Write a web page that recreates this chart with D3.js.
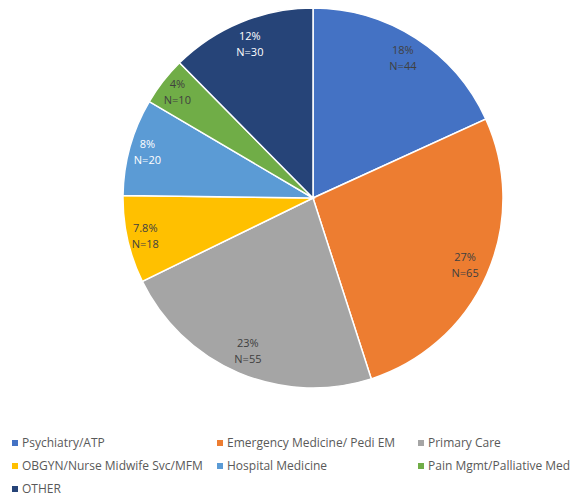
<!DOCTYPE html>
<html>
<head>
<meta charset="utf-8">
<script src="https://cdn.jsdelivr.net/npm/d3@7"></script>
<style>
  body { margin: 0; background: #fff; }
  svg { display: block; font-family: "Open Sans", "Liberation Sans", sans-serif; }
  .lbl { font-size: 11px; text-anchor: middle; }
  .leg text { font-size: 12px; fill: #595959; }
</style>
</head>
<body>
<svg id="chart" width="581" height="496"></svg>
<script>
(function () {
  "use strict";

  // data
  var categories = ["Psychiatry/ATP", "Emergency Medicine/ Pedi EM", "Primary Care",
    "OBGYN/Nurse Midwife Svc/MFM", "Hospital Medicine", "Pain Mgmt/Palliative Med", "OTHER"];
  var counts = [44, 65, 55, 18, 20, 10, 30];
  var pctLabels = ["18%", "27%", "23%", "7.8%", "8%", "4%", "12%"];
  var colors = ["#4472C4", "#ED7D31", "#A5A5A5", "#FFC000", "#5B9BD5", "#70AD47", "#264478"];
  var labelColors = ["#404040", "#404040", "#404040", "#404040", "#ffffff", "#404040", "#ffffff"];

  var svg = d3.select("#chart");
  var cx = 313, cy = 198, R = 190;
  var total = d3.sum(counts);

  var pie = d3.pie().sort(null).value(function (d) { return d; });
  var arcs = pie(counts);
  var arc = d3.arc().innerRadius(0).outerRadius(R);
  // small slices get their labels pushed a bit further out, like Excel does
  function labelPos(d) {
    var r = (d.value / total < 0.1) ? R * 0.905 : R * 0.875;
    return d3.arc().innerRadius(r).outerRadius(r).centroid(d);
  }

  var g = svg.append("g").attr("transform", "translate(" + cx + "," + cy + ")");

  g.selectAll("path.slice")
    .data(arcs)
    .enter().append("path")
      .attr("class", "slice")
      .attr("d", arc)
      .attr("fill", function (d, i) { return colors[i]; })
      .attr("stroke", "#fff")
      .attr("stroke-width", 1.5);

  var lbl = g.selectAll("text.lbl")
    .data(arcs)
    .enter().append("text")
      .attr("class", "lbl")
      .attr("transform", function (d) {
        var c = labelPos(d);
        return "translate(" + c[0] + "," + c[1] + ")";
      })
      .attr("fill", function (d, i) { return labelColors[i]; });
  lbl.append("tspan").attr("x", 0).attr("dy", "-0.35em").text(function (d, i) { return pctLabels[i]; });
  lbl.append("tspan").attr("x", 0).attr("dy", "1.45em").text(function (d, i) { return "N=" + counts[i]; });

  // legend
  var colX = [12, 217, 418];
  var rowY = [443, 466, 489];
  var leg = svg.append("g").attr("class", "leg")
    .selectAll("g")
    .data(categories)
    .enter().append("g")
      .attr("transform", function (d, i) {
        return "translate(" + colX[i % 3] + "," + rowY[Math.floor(i / 3)] + ")";
      });
  leg.append("rect")
    .attr("x", 0).attr("y", -3).attr("width", 6).attr("height", 6)
    .attr("fill", function (d, i) { return colors[i]; });
  leg.append("text")
    .attr("x", 10).attr("y", 4)
    .text(function (d) { return d; });
}());
</script>
</body>
</html>
